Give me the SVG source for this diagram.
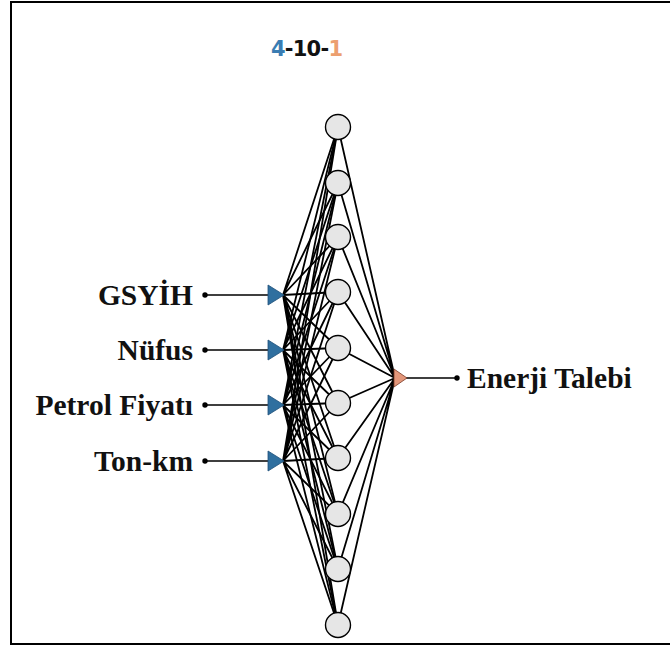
<svg xmlns="http://www.w3.org/2000/svg" width="670" height="648" viewBox="0 0 670 648">
  <style>
    .frame { fill: #ffffff; stroke: #000000; stroke-width: 2; }
    .wire { stroke: #000000; stroke-width: 1.8; fill: none; }
    .lead { stroke: #000000; stroke-width: 1.6; fill: none; }
    .dot { fill: #000000; }
    .hidden { fill: #e6e6e6; stroke: #000000; stroke-width: 1.4; }
    .in-tri { fill: #2f6f9f; stroke: #1e4f78; stroke-width: 0.8; }
    .out-tri { fill: #e2967a; stroke: #7a3a26; stroke-width: 0.8; }
    .label { font-family: "Liberation Serif", "Times New Roman", serif; font-weight: bold; font-size: 29.5px; fill: #111111; }
    .title { font-family: "DejaVu Sans", Verdana, sans-serif; font-weight: bold; font-size: 21px; }
  </style>

  <rect class="frame" x="11" y="2" width="665" height="642"/>

  <!-- network title: 4 inputs, 10 hidden neurons, 1 output -->
  <g id="title">
    <text class="title" x="271" y="56" textLength="72"><tspan fill="#3a7db3">4</tspan><tspan fill="#111111">-10-</tspan><tspan fill="#ec9f6f">1</tspan></text>
  </g>

  <!-- weights: every input to every hidden neuron, every hidden neuron to the output -->
  <g id="connectors">
    <g class="wire">
      <path d="M283 295L338 127M283 295L338 183M283 295L338 237M283 295L338 292M283 295L338 348M283 295L338 403M283 295L338 458M283 295L338 514M283 295L338 569M283 295L338 625"/>
      <path d="M283 350L338 127M283 350L338 183M283 350L338 237M283 350L338 292M283 350L338 348M283 350L338 403M283 350L338 458M283 350L338 514M283 350L338 569M283 350L338 625"/>
      <path d="M283 405L338 127M283 405L338 183M283 405L338 237M283 405L338 292M283 405L338 348M283 405L338 403M283 405L338 458M283 405L338 514M283 405L338 569M283 405L338 625"/>
      <path d="M283 461L338 127M283 461L338 183M283 461L338 237M283 461L338 292M283 461L338 348M283 461L338 403M283 461L338 458M283 461L338 514M283 461L338 569M283 461L338 625"/>
      <path d="M338 127L395 378M338 183L395 378M338 237L395 378M338 292L395 378M338 348L395 378M338 403L395 378M338 458L395 378M338 514L395 378M338 569L395 378M338 625L395 378"/>
    </g>
    <g class="lead">
      <path d="M205 295H268M205 350H268M205 405H268M205 461H268M406 378H457"/>
    </g>
    <circle class="dot" cx="205" cy="295" r="2.7"/>
    <circle class="dot" cx="205" cy="350" r="2.7"/>
    <circle class="dot" cx="205" cy="405" r="2.7"/>
    <circle class="dot" cx="205" cy="461" r="2.7"/>
    <circle class="dot" cx="457" cy="378" r="2.7"/>
  </g>

  <!-- input layer -->
  <g id="in-gsyih">
    <polygon class="in-tri" points="268,285 268,305 284,295"/>
    <text class="label" x="193" y="305" text-anchor="end">GSYİH</text>
  </g>
  <g id="in-nufus">
    <polygon class="in-tri" points="268,340 268,360 284,350"/>
    <text class="label" x="193" y="360" text-anchor="end">Nüfus</text>
  </g>
  <g id="in-petrol">
    <polygon class="in-tri" points="268,395 268,415 284,405"/>
    <text class="label" x="193" y="415" text-anchor="end">Petrol Fiyatı</text>
  </g>
  <g id="in-tonkm">
    <polygon class="in-tri" points="268,451 268,471 284,461"/>
    <text class="label" x="193" y="471" text-anchor="end">Ton-km</text>
  </g>

  <!-- hidden layer -->
  <g id="h1"><circle class="hidden" cx="338" cy="127" r="12.5"/></g>
  <g id="h2"><circle class="hidden" cx="338" cy="183" r="12.5"/></g>
  <g id="h3"><circle class="hidden" cx="338" cy="237" r="12.5"/></g>
  <g id="h4"><circle class="hidden" cx="338" cy="292" r="12.5"/></g>
  <g id="h5"><circle class="hidden" cx="338" cy="348" r="12.5"/></g>
  <g id="h6"><circle class="hidden" cx="338" cy="403" r="12.5"/></g>
  <g id="h7"><circle class="hidden" cx="338" cy="458" r="12.5"/></g>
  <g id="h8"><circle class="hidden" cx="338" cy="514" r="12.5"/></g>
  <g id="h9"><circle class="hidden" cx="338" cy="569" r="12.5"/></g>
  <g id="h10"><circle class="hidden" cx="338" cy="625" r="12.5"/></g>

  <!-- output layer -->
  <g id="out-enerji">
    <polygon class="out-tri" points="394,369 394,387 407,378"/>
    <text class="label" x="467" y="388">Enerji Talebi</text>
  </g>
</svg>
